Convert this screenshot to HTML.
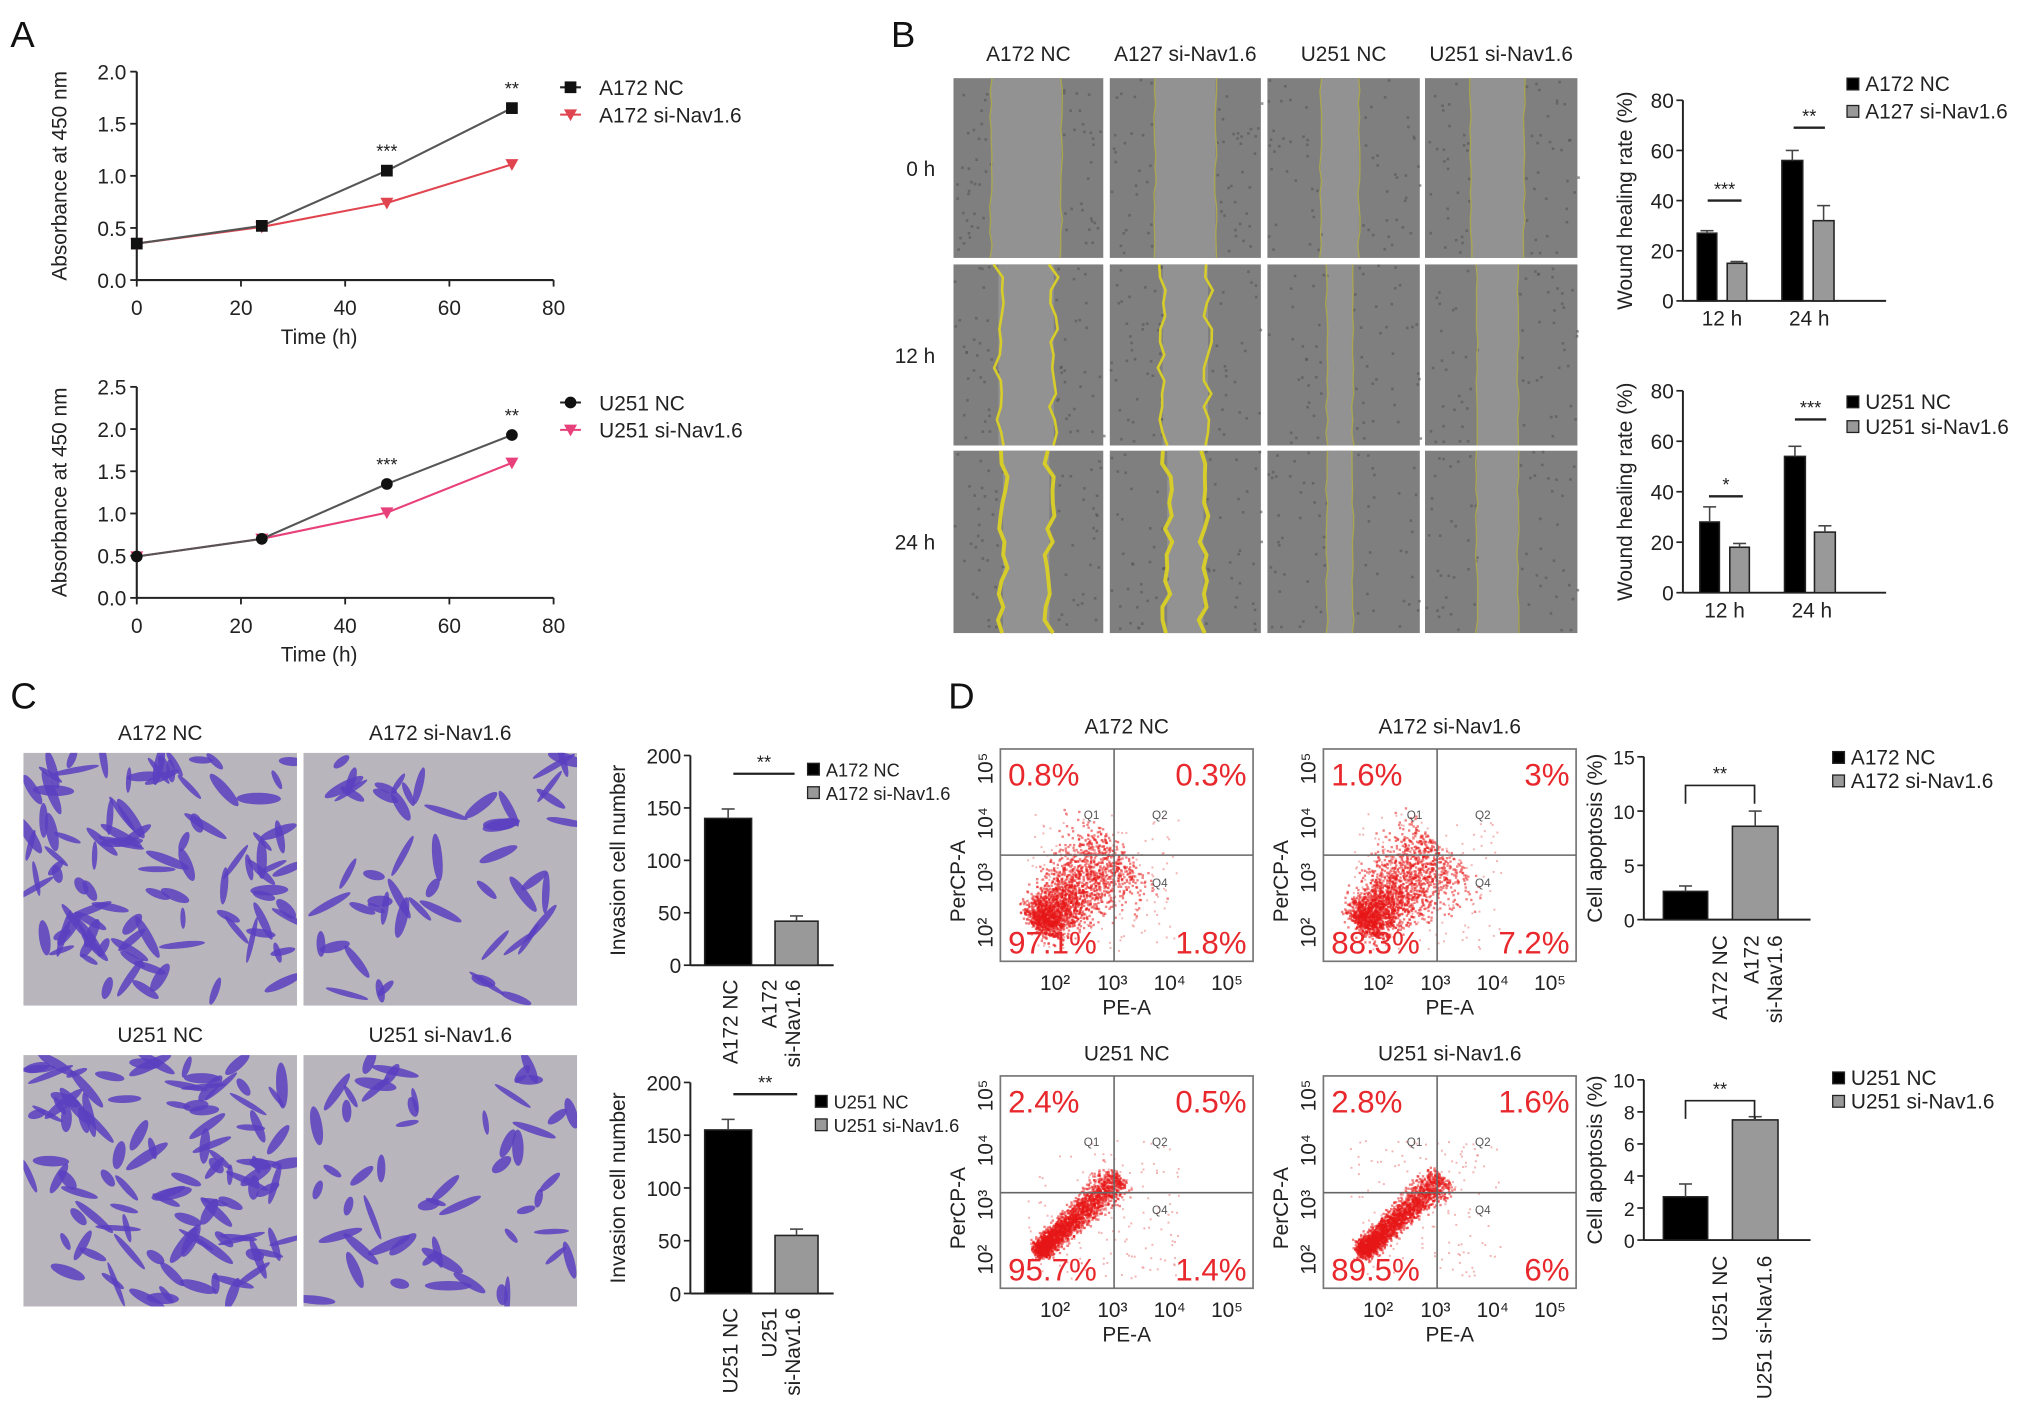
<!DOCTYPE html>
<html><head><meta charset="utf-8"><style>
html,body{margin:0;padding:0;background:#fff}
svg{display:block;font-family:"Liberation Sans",Arial,sans-serif}
</style></head><body>
<svg id="fig" width="2032" height="1418" viewBox="0 0 1560 1088.6" preserveAspectRatio="none" xmlns="http://www.w3.org/2000/svg">
<rect width="1560" height="1089" fill="#fff"/>
<g font-size="28" fill="#111">
<text x="8" y="36">A</text>
<text x="684" y="36">B</text>
<text x="8" y="544">C</text>
<text x="728" y="544">D</text>
</g>
<g id="root"></g>
</svg>
<script>
// ---- data ----
const timeCats = [0, 24, 48, 72];
const a172NC = [0.35, 0.52, 1.05, 1.65];
const a172Si = [0.35, 0.51, 0.74, 1.11];
const u251NC = [0.49, 0.70, 1.35, 1.93];
const u251Si = [0.49, 0.70, 1.01, 1.60];
const timeTicks = [0, 20, 40, 60, 80];
const absTicksA = ["0.0","0.5","1.0","1.5","2.0"];
const absTicksB = ["0.0","0.5","1.0","1.5","2.0","2.5"];
const woundCats = ["12 h", "24 h"];
const woundA172NC = [27, 56];
const woundA172Si = [15, 32];
const woundU251NC = [28, 54];
const woundU251Si = [18, 24];
const woundTicks = [0, 20, 40, 60, 80];
const invasionA172 = [140, 42];
const invasionU251 = [155, 55];
const invasionTicks = [0, 50, 100, 150, 200];
const apopA172 = [2.6, 8.6];
const apopU251 = [2.7, 7.5];
const apopTicksA = [0, 5, 10, 15];
const apopTicksB = [0, 2, 4, 6, 8, 10];
const flowA172NC = ["0.8%","0.3%","97.1%","1.8%"];
const flowA172Si = ["1.6%","3%","88.3%","7.2%"];
const flowU251NC = ["2.4%","0.5%","95.7%","1.4%"];
const flowU251Si = ["2.8%","1.6%","89.5%","6%"];

const NS = "http://www.w3.org/2000/svg";
const root = document.getElementById('root');
function el(tag, attrs, parent, txt){
  const e = document.createElementNS(NS, tag);
  for (const k in attrs) e.setAttribute(k, attrs[k]);
  if (txt !== undefined) e.textContent = txt;
  (parent || root).appendChild(e);
  return e;
}
function grp(name){
  const g = el('g', {});
  
  
  return g;
}

// ---- line charts (panel A) ----
function lineChart(name, y0px, ytopPx, ymax, ticks, s1, s2, c2, mk1, leg1, leg2, stars){
  const g = grp(name);
  const x0 = 105, x1 = 425;
  const sx = v => x0 + (v/80)*(x1-x0);
  const sy = v => y0px - (v/ymax)*(y0px-ytopPx);
  el('line', {x1:x0, y1:ytopPx, x2:x0, y2:y0px, stroke:'#222','stroke-width':1.6}, g);
  el('line', {x1:x0, y1:y0px, x2:x1, y2:y0px, stroke:'#222','stroke-width':1.6}, g);
  ticks.forEach(t => {
    const y = sy(parseFloat(t));
    el('line', {x1:x0-5, y1:y, x2:x0, y2:y, stroke:'#222','stroke-width':1.4}, g);
    const tl = el('text', {x:x0-8, y:y+6, 'text-anchor':'end','font-size':16, fill:'#222'}, g, t);
    
    
  });
  timeTicks.forEach(t => {
    const x = sx(t);
    el('line', {x1:x, y1:y0px, x2:x, y2:y0px+5, stroke:'#222','stroke-width':1.4}, g);
    const tl = el('text', {x:x, y:y0px+27, 'text-anchor':'middle','font-size':16, fill:'#222'}, g, String(t));
    
    
  });
  const xt = el('text', {x:245, y:y0px+49, 'text-anchor':'middle','font-size':16, fill:'#222'}, g, 'Time (h)');
  
  
  const ym = (y0px+ytopPx)/2;
  const yt = el('text', {x:0, y:0, transform:`translate(51,${ym}) rotate(-90)`, 'text-anchor':'middle','font-size':16, fill:'#222'}, g, 'Absorbance at 450 nm');
  
  
  const p = (arr) => arr.map((v,i)=>`${sx(timeCats[i])},${sy(v)}`).join(' ');
  const l2 = el('polyline', {points:p(s2), fill:'none', stroke:c2, 'stroke-width':1.6}, g);
  
  const l1 = el('polyline', {points:p(s1), fill:'none', stroke:'#555', 'stroke-width':1.6}, g);
  
  function marker(x, y, type, color){
    if (type === 'sq') return el('rect', {x:x-4.5, y:y-4.5, width:9, height:9, fill:color}, g);
    if (type === 'ci') return el('circle', {cx:x, cy:y, r:4.5, fill:color}, g);
    return el('path', {d:`M${x-5},${y-4} L${x+5},${y-4} L${x},${y+5} Z`, fill:color}, g);
  }
  s2.forEach((v,i)=>{ const m = marker(sx(timeCats[i]), sy(v), 'tri', c2);   });
  s1.forEach((v,i)=>{ const m = marker(sx(timeCats[i]), sy(v), mk1, '#111');   });
  stars.forEach((s,i)=>{ if(!s) return;
    const st = el('text', {x:sx(timeCats[i]), y:sy(s1[i])-10, 'text-anchor':'middle','font-size':14, fill:'#222'}, g, s);
    
    
  });
  const ly = ytopPx + 12;
  el('line', {x1:430, y1:ly, x2:446, y2:ly, stroke:'#222','stroke-width':1.6}, g);
  marker(438, ly, mk1, '#111');
  const t1 = el('text', {x:460, y:ly+6, 'font-size':16, fill:'#222'}, g, leg1);
  
  
  el('line', {x1:430, y1:ly+21, x2:446, y2:ly+21, stroke:c2,'stroke-width':1.6}, g);
  marker(438, ly+21, 'tri', c2);
  const t2 = el('text', {x:460, y:ly+27, 'font-size':16, fill:'#222'}, g, leg2);
  
  
}
lineChart('a172-proliferation-chart', 215, 55, 2.0, absTicksA, a172NC, a172Si, '#e0454f', 'sq', 'A172 NC', 'A172 si-Nav1.6', [null,null,'***','**']);
lineChart('u251-proliferation-chart', 459, 297, 2.5, absTicksB, u251NC, u251Si, '#e8407a', 'ci', 'U251 NC', 'U251 si-Nav1.6', [null,null,'***','**']);

// ---- wound images (panel B) ----
(function(){
  const g = grp('wound-healing-images');
  const cols = [[732,847],[852,968],[973,1090],[1094,1211]];
  const rows = [[60,198],[203,342],[346,486]];
  const colLabels = ['A172 NC','A127 si-Nav1.6','U251 NC','U251 si-Nav1.6'];
  const rowLabels = ['0 h','12 h','24 h'];
  const gaps = [[0.25,0.72],[0.3,0.7],[0.35,0.6],[0.3,0.65]];
  let seed = 11; const rnd = ()=>{ seed = (seed*9301+49297)%233280; return seed/233280; };
  cols.forEach((c,ci)=>{
    const t = el('text', {x:(c[0]+c[1])/2, y:47, 'text-anchor':'middle','font-size':16, fill:'#222'}, g, colLabels[ci]);
    
    
    rows.forEach((r,ri)=>{
      const w = c[1]-c[0], h = r[1]-r[0];
      const im = el('rect', {x:c[0], y:r[0], width:w, height:h, fill:'#7f7f7f'}, g);
      
      
      let gl = gaps[ci][0], gr = gaps[ci][1];
      if (ri===1 && ci<2){ gl+=0.05; gr-=0.05; }
      if (ri===2 && ci<2){ gl+=0.08; gr-=0.08; }
      if (ri>0 && ci>=2){ gl+=0.04; gr-=0.04; }
      el('rect', {x:c[0]+w*gl, y:r[0], width:w*(gr-gl), height:h, fill:'#929292'}, g);
      for (let i=0;i<60;i++){
        const side = rnd()<0.5 ? rnd()*gl : gr + rnd()*(1-gr);
        el('rect', {x:c[0]+w*side, y:r[0]+rnd()*(h-3), width:2, height:2, fill:'#555', opacity:0.6}, g);
      }
      const yc = (ri>0 && ci<2) ? '#d6cc2a' : '#aaa650';
      const sw = (ri===2 && ci<2) ? 3 : (ri===1 && ci<2 ? 2 : 1);
      [gl, gr].forEach(gx=>{
        let pts = [];
        for (let k=0;k<=14;k++){ const jit = (ri>0&&ci<2) ? (rnd()-0.5)*8 : (rnd()-0.5)*2; pts.push(`${c[0]+w*gx+jit},${r[0]+h*k/14}`); }
        el('polyline', {points:pts.join(' '), fill:'none', stroke:yc,'stroke-width':sw}, g);
      });
    });
  });
  rows.forEach((r,ri)=>{
    const t = el('text', {x:718, y:(r[0]+r[1])/2+6, 'text-anchor':'end','font-size':16, fill:'#222'}, g, rowLabels[ri]);
    
    
  });
})();

// ---- bar chart helper ----
function barChart(o){
  const g = grp(o.name);
  const sy = v => o.y0 - (v/o.ymax)*(o.y0-o.ytop);
  const tfs = o.tfs || 16;
  el('line', {x1:o.x0, y1:o.ytop, x2:o.x0, y2:o.y0, stroke:'#222','stroke-width':1.5}, g);
  el('line', {x1:o.x0, y1:o.y0, x2:o.x1, y2:o.y0, stroke:'#222','stroke-width':1.5}, g);
  o.ticks.forEach(t=>{
    const y = sy(t);
    el('line', {x1:o.x0-5, y1:y, x2:o.x0, y2:y, stroke:'#222','stroke-width':1.3}, g);
    const tl = el('text', {x:o.x0-7, y:y+6, 'text-anchor':'end','font-size':tfs, fill:'#222'}, g, String(t));
    
    
  });
  const yt = el('text', {x:0, y:0, transform:`translate(${o.ylx},${(o.y0+o.ytop)/2}) rotate(-90)`, 'text-anchor':'middle','font-size':16, fill:'#222'}, g, o.ylabel);
  
  
  o.bars.forEach(b=>{
    const y = sy(b.v);
    const r = el('rect', {x:b.x, y:y, width:b.w, height:o.y0-y, fill:b.fill, stroke:'#222','stroke-width':1.2}, g);
    
    
    const e = sy(b.v + b.err);
    el('line', {x1:b.x+b.w/2, y1:e, x2:b.x+b.w/2, y2:y, stroke:'#444','stroke-width':1.2}, g);
    el('line', {x1:b.x+b.w/2-5, y1:e, x2:b.x+b.w/2+5, y2:e, stroke:'#444','stroke-width':1.2}, g);
  });
  (o.labels||[]).forEach(l=>{
    const t = el('text', l.rot ? {x:0,y:0,transform:`translate(${l.x},${l.y}) rotate(-90)`,'text-anchor':'end','font-size':16,fill:'#222'} : {x:l.x, y:l.y, 'text-anchor':'middle','font-size':16, fill:'#222'}, g);
    l.lines.forEach((s,i)=>{ el('tspan', {x:l.rot?0:l.x, dy:i?18:0}, t, s); });
    
    
  });
  (o.sig||[]).forEach(s=>{
    const yy = s.y;
    if (s.bracket){
      el('path', {d:`M${s.x1},${yy+14} L${s.x1},${yy} L${s.x2},${yy} L${s.x2},${yy+14}`, fill:'none', stroke:'#222','stroke-width':1.3}, g);
    } else {
      el('line', {x1:s.x1, y1:yy, x2:s.x2, y2:yy, stroke:'#222','stroke-width':1.8}, g);
    }
    const st = el('text', {x:(s.x1+s.x2)/2, y:yy-4, 'text-anchor':'middle','font-size':14, fill:'#222'}, g, s.t);
    
    
  });
  o.legend.forEach((lg,i)=>{
    const y = o.ly + i*o.lstep;
    el('rect', {x:o.lx, y:y-6, width:9, height:9, fill:lg.fill, stroke:'#222','stroke-width':1}, g);
    const t = el('text', {x:o.lx+14, y:y+4, 'font-size':o.lfs||16, fill:'#222'}, g, lg.t);
    
    
  });
}
const BLK = '#000', GRY = '#999';
barChart({name:'a172-wound-chart', x0:1292, x1:1448, y0:231, ytop:77, ymax:80, ticks:woundTicks, ylx:1253, ylabel:'Wound healing rate (%)',
  bars:[{x:1303,w:15,v:woundA172NC[0],err:1,fill:BLK},{x:1326,w:15,v:woundA172Si[0],err:0.7,fill:GRY},{x:1368,w:16,v:woundA172NC[1],err:4,fill:BLK},{x:1392,w:16,v:woundA172Si[1],err:6,fill:GRY}],
  labels:[{x:1322,y:250,lines:[woundCats[0]]},{x:1389,y:250,lines:[woundCats[1]]}],
  sig:[{x1:1311,x2:1337,y:154,t:'***'},{x1:1377,x2:1401,y:98,t:'**'}],
  legend:[{fill:BLK,t:'A172 NC'},{fill:GRY,t:'A127 si-Nav1.6'}], lx:1418, ly:66, lstep:21});
barChart({name:'u251-wound-chart', x0:1292, x1:1448, y0:455, ytop:300, ymax:80, ticks:woundTicks, ylx:1253, ylabel:'Wound healing rate (%)',
  bars:[{x:1305,w:15,v:woundU251NC[0],err:6,fill:BLK},{x:1328,w:15,v:woundU251Si[0],err:1.5,fill:GRY},{x:1370,w:16,v:woundU251NC[1],err:4,fill:BLK},{x:1393,w:16,v:woundU251Si[1],err:2.5,fill:GRY}],
  labels:[{x:1324,y:474,lines:[woundCats[0]]},{x:1391,y:474,lines:[woundCats[1]]}],
  sig:[{x1:1312,x2:1338,y:381,t:'*'},{x1:1378,x2:1402,y:322,t:'***'}],
  legend:[{fill:BLK,t:'U251 NC'},{fill:GRY,t:'U251 si-Nav1.6'}], lx:1418, ly:310, lstep:19});
barChart({name:'a172-invasion-chart', x0:530, x1:640, y0:741, ytop:580, ymax:200, ticks:invasionTicks, ylx:480, ylabel:'Invasion cell number',
  bars:[{x:541,w:36,v:invasionA172[0],err:9,fill:BLK},{x:595,w:33,v:invasionA172[1],err:5,fill:GRY}],
  labels:[{x:566,y:752,rot:true,lines:['A172 NC']},{x:596,y:752,rot:true,lines:['A172','si-Nav1.6']}],
  sig:[{x1:563,x2:610,y:594,t:'**'}],
  legend:[{fill:BLK,t:'A172 NC'},{fill:GRY,t:'A172 si-Nav1.6'}], lx:620, ly:592, lstep:18, lfs:14});
barChart({name:'u251-invasion-chart', x0:530, x1:640, y0:993, ytop:831, ymax:200, ticks:invasionTicks, ylx:480, ylabel:'Invasion cell number',
  bars:[{x:541,w:36,v:invasionU251[0],err:10,fill:BLK},{x:595,w:33,v:invasionU251[1],err:6,fill:GRY}],
  labels:[{x:566,y:1004,rot:true,lines:['U251 NC']},{x:596,y:1004,rot:true,lines:['U251','si-Nav1.6']}],
  sig:[{x1:563,x2:612,y:840,t:'**'}],
  legend:[{fill:BLK,t:'U251 NC'},{fill:GRY,t:'U251 si-Nav1.6'}], lx:626, ly:847, lstep:18, lfs:14});
barChart({name:'a172-apoptosis-chart', x0:1262, x1:1390, y0:706, ytop:581, ymax:15, ticks:apopTicksA, ylx:1230, tfs:15, ylabel:'Cell apoptosis (%)',
  bars:[{x:1277,w:34,v:apopA172[0],err:0.5,fill:BLK},{x:1330,w:35,v:apopA172[1],err:1.4,fill:GRY}],
  labels:[{x:1326,y:718,rot:true,lines:['A172 NC']},{x:1350,y:718,rot:true,lines:['A172','si-Nav1.6']}],
  sig:[{x1:1294,x2:1347,y:603,t:'**',bracket:true}],
  legend:[{fill:BLK,t:'A172 NC'},{fill:GRY,t:'A172 si-Nav1.6'}], lx:1407, ly:583, lstep:18});
barChart({name:'u251-apoptosis-chart', x0:1262, x1:1390, y0:952, ytop:829, ymax:10, ticks:apopTicksB, ylx:1230, tfs:15, ylabel:'Cell apoptosis (%)',
  bars:[{x:1277,w:34,v:apopU251[0],err:0.8,fill:BLK},{x:1330,w:35,v:apopU251[1],err:0.2,fill:GRY}],
  labels:[{x:1326,y:964,rot:true,lines:['U251 NC']},{x:1360,y:964,rot:true,lines:['U251 si-Nav1.6']}],
  sig:[{x1:1294,x2:1347,y:845,t:'**',bracket:true}],
  legend:[{fill:BLK,t:'U251 NC'},{fill:GRY,t:'U251 si-Nav1.6'}], lx:1407, ly:829, lstep:18});

// ---- transwell images (panel C) ----
(function(){
  const g = grp('transwell-images');
  const imgs = [[18,578,'A172 NC',34],[233,578,'A172 si-Nav1.6',18],[18,810,'U251 NC',36],[233,810,'U251 si-Nav1.6',18]];
  let seed = 7; const rnd = ()=>{ seed = (seed*9301+49297)%233280; return seed/233280; };
  imgs.forEach(im=>{
    const w = 210, h = im[1]===578?194:193;
    const t = el('text', {x:im[0]+w/2, y:im[1]-10, 'text-anchor':'middle','font-size':16, fill:'#222'}, g, im[2]);
    
    
    const r = el('rect', {x:im[0], y:im[1], width:w, height:h, fill:'#b8b6bc'}, g);
    
    
    const cg = el('g', {}, g);
    const cp = el('clipPath', {id:'cp'+im[0]+'_'+im[1]}, g);
    el('rect', {x:im[0], y:im[1], width:w, height:h}, cp);
    cg.setAttribute('clip-path', `url(#cp${im[0]}_${im[1]})`);
    for (let i=0;i<im[3]*3;i++){
      const cx = im[0]+4+rnd()*(w-8), cy = im[1]+4+rnd()*(h-8);
      const a = rnd()*180, L = 7+rnd()*12;
      el('ellipse', {cx:cx, cy:cy, rx:L, ry:2+rnd()*2.5, fill:'#5b3fbf', transform:`rotate(${a} ${cx} ${cy})`, opacity:0.85}, cg);
    }
  });
})();

// ---- flow cytometry (panel D) ----
function flowPlot(name, x0, y0, title, pcts, tight){
  const g = grp(name);
  const w = 194, h = 163;
  const t = el('text', {x:x0+w/2, y:y0-12, 'text-anchor':'middle','font-size':16, fill:'#222'}, g, title);
  
  
  el('rect', {x:x0, y:y0, width:w, height:h, fill:'#fff', stroke:'#777','stroke-width':1.3}, g);
  const qx = x0 + w*0.45, qy = y0 + h*(tight?0.55:0.5);
  let seed = x0*7+y0; const rnd = ()=>{ seed = (seed*9301+49297)%233280; return seed/233280; };
  const cg = el('g', {}, g);
  const cp = el('clipPath', {id:'fc'+x0+'_'+y0}, g);
  el('rect', {x:x0, y:y0, width:w, height:h}, cp);
  cg.setAttribute('clip-path', `url(#fc${x0}_${y0})`);
  const ox = x0+35, oy = y0+h-35;
  const ex = x0+w*0.47, ey = y0+h*0.47;
  const spread = tight ? 6 : 18;
  for (let i=0;i<2200;i++){
    const tt = Math.pow(rnd(), 1.7);
    const n1 = (rnd()+rnd()+rnd()-1.5)*spread*(0.6+tt);
    const n2 = (rnd()+rnd()-1)*spread;
    const cx = ox + (ex-ox)*tt + n1 + n2*0.3 - (1-tt)*10*rnd();
    const cy = oy + (ey-oy)*tt + n1 - n2*0.3 + (1-tt)*10*rnd();
    el('rect', {x:cx, y:cy, width:1.8, height:1.8, fill:'#e81818', opacity:0.55}, cg);
  }
  for (let i=0;i<150;i++){
    el('rect', {x:x0+20+rnd()*(w*0.6), y:y0+h*0.3+rnd()*(h*0.65), width:1.5, height:1.5, fill:'#e86a6a', opacity:0.5}, cg);
  }
  el('line', {x1:qx, y1:y0, x2:qx, y2:y0+h, stroke:'#666','stroke-width':1.2}, g);
  el('line', {x1:x0, y1:qy, x2:x0+w, y2:qy, stroke:'#666','stroke-width':1.2}, g);
  [['Q1',x0+w*0.33,y0+h*0.33],['Q2',x0+w*0.6,y0+h*0.33],['Q4',x0+w*0.6,y0+h*0.65]].forEach(q=>{
    el('text', {x:q[1], y:q[2], 'font-size':9, fill:'#555'}, g, q[0]);
  });
  const pos = [[x0+6,y0+28,'start'],[x0+w-5,y0+28,'end'],[x0+6,y0+h-6,'start'],[x0+w-5,y0+h-6,'end']];
  pcts.forEach((p,i)=>{
    const tx = el('text', {x:pos[i][0], y:pos[i][1], 'text-anchor':pos[i][2], 'font-size':24, fill:'#e8282c'}, g, p);
    
    
  });
  ['10²','10³','10⁴','10⁵'].forEach((s,i)=>{
    el('text', {x:x0+42+i*44, y:y0+h+22, 'text-anchor':'middle','font-size':16, fill:'#222'}, g, s);
    el('text', {x:0, y:0, transform:`translate(${x0-6},${y0+h-22-i*42}) rotate(-90)`, 'text-anchor':'middle','font-size':16, fill:'#222'}, g, s);
  });
  const xl = el('text', {x:x0+w/2, y:y0+h+41, 'text-anchor':'middle','font-size':16, fill:'#222'}, g, 'PE-A');
  
  
  const yl = el('text', {x:0, y:0, transform:`translate(${x0-27},${y0+h/2+20}) rotate(-90)`, 'text-anchor':'middle','font-size':16, fill:'#222'}, g, 'PerCP-A');
  
  
}
flowPlot('flow-a172-nc', 768, 575, 'A172 NC', flowA172NC, false);
flowPlot('flow-a172-si', 1016, 575, 'A172 si-Nav1.6', flowA172Si, false);
flowPlot('flow-u251-nc', 768, 826, 'U251 NC', flowU251NC, true);
flowPlot('flow-u251-si', 1016, 826, 'U251 si-Nav1.6', flowU251Si, true);
</script>
</body></html>
